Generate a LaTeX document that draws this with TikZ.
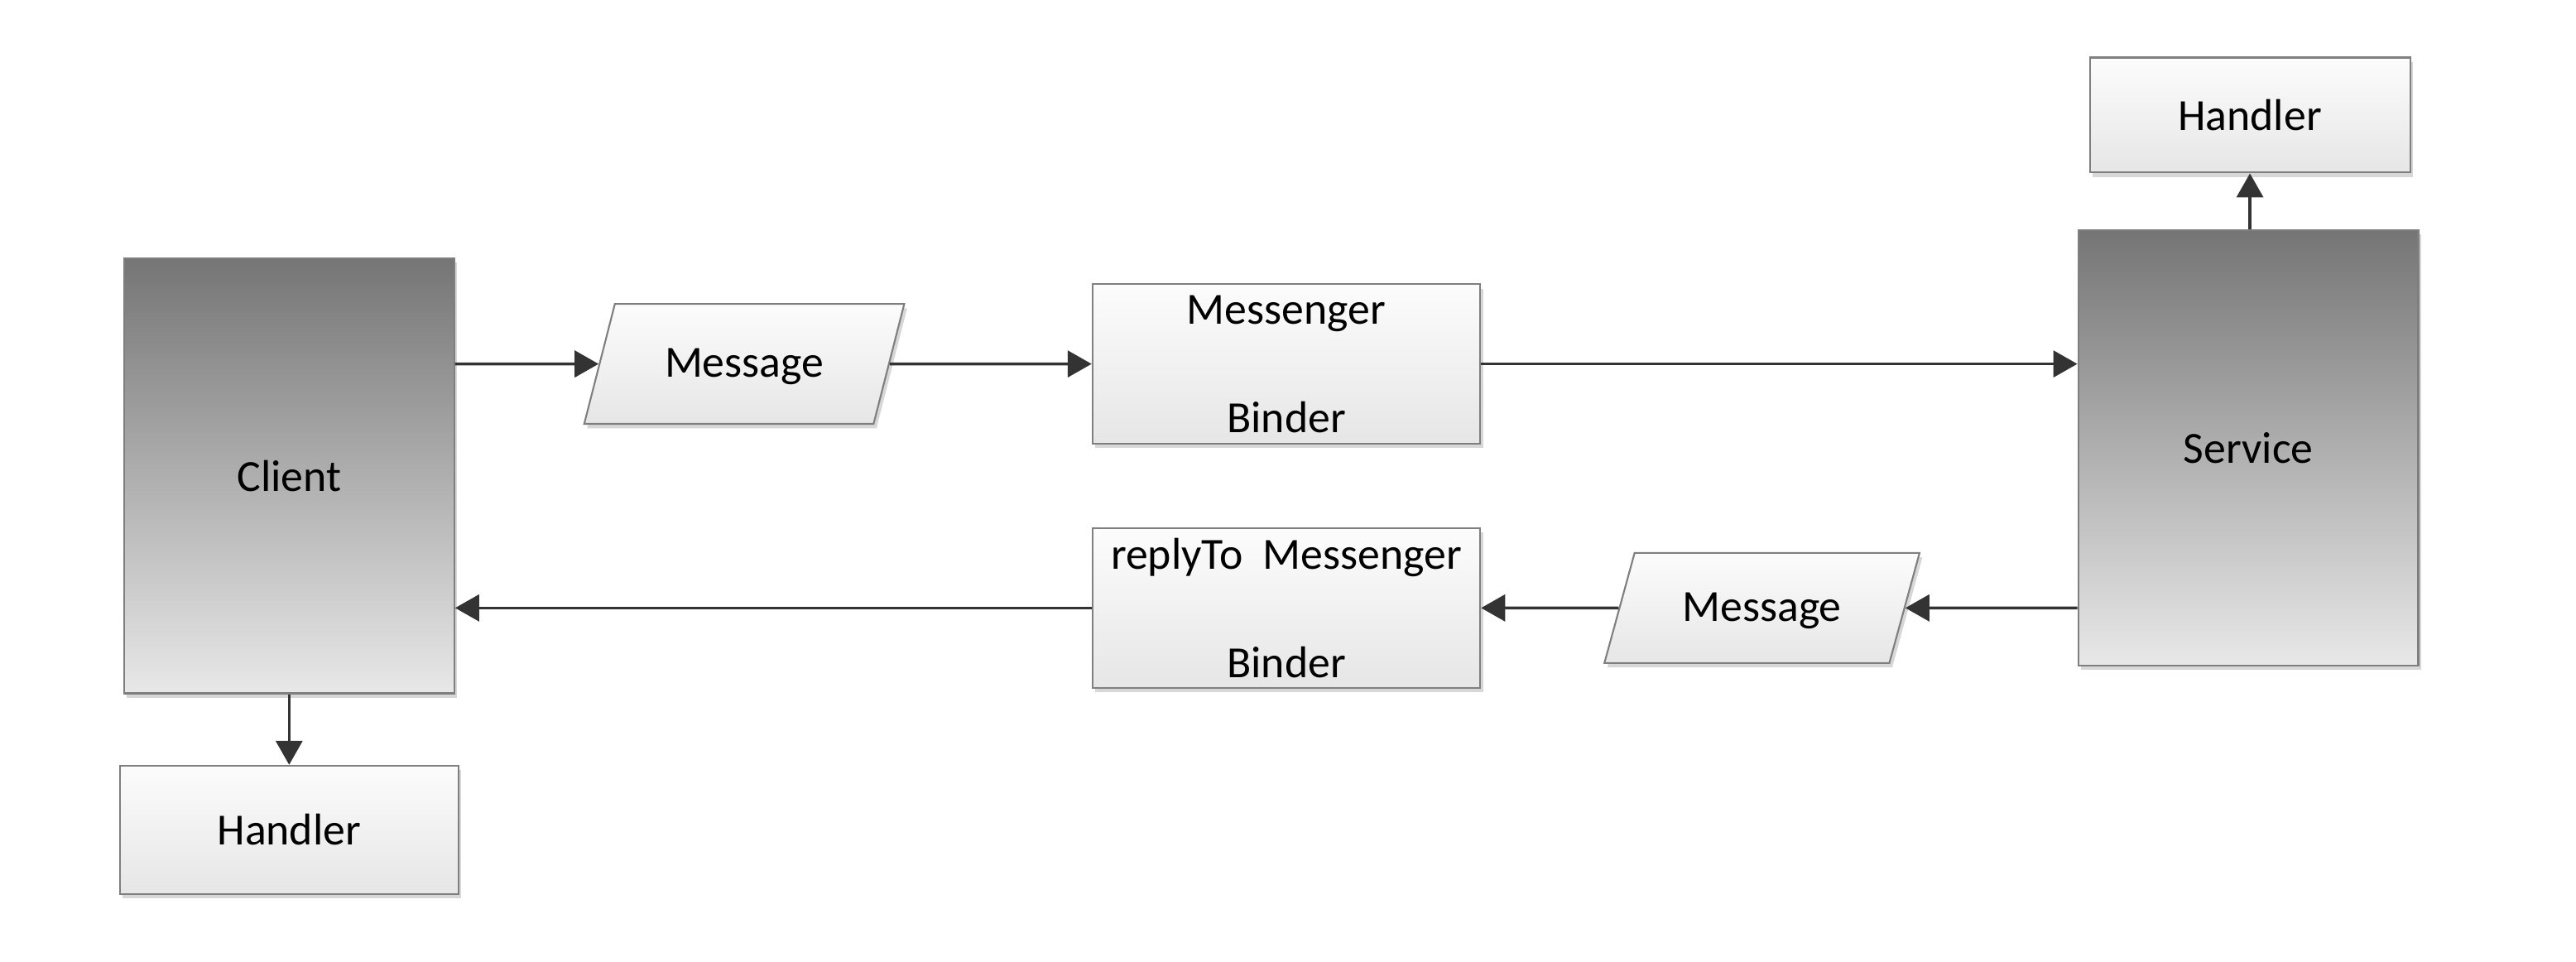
\documentclass[tikz,border=0pt]{standalone}
\usepackage{fontspec}
\setmainfont{Carlito}
\usetikzlibrary{arrows.meta,shapes.geometric,shadows}
\definecolor{darktop}{HTML}{757575}
\definecolor{darkbot}{HTML}{E8E8E8}
\definecolor{lighttop}{HTML}{FCFCFC}
\definecolor{lightbot}{HTML}{E6E6E6}
\definecolor{boxborder}{HTML}{7F7F7F}
\definecolor{arrowc}{HTML}{333333}
\newcommand{\pxu}{0.019847cm}
\begin{document}
\begin{tikzpicture}[x=0.019847cm,y=-0.019847cm,
  font=\fontsize{15.3}{18.6}\selectfont,
  shd/.style={drop shadow={shadow xshift=1pt,shadow yshift=-1.5pt,opacity=0.35,fill=black!45}},
  box/.style={rectangle,draw=boxborder,line width=0.6pt,top color=lighttop,bottom color=lightbot,shd,align=center,inner sep=0pt},
  big/.style={box,top color=darktop,bottom color=darkbot},
  para/.style={trapezium,trapezium left angle=63.5,trapezium right angle=116.5,trapezium stretches=true,
    draw=boxborder,line width=0.6pt,top color=lighttop,bottom color=lightbot,shd,inner sep=0pt,
    text height=1.1em,text depth=0.2em},
  conn/.style={draw=arrowc,line width=1pt,-{Triangle[length=0.29cm,width=0.32cm]}}]
\useasboundingbox (0,0) rectangle (1568,585);

\node[big,minimum width=201*\pxu,minimum height=265*\pxu] (client) at (176,289.5) {Client};
\node[box,minimum width=206*\pxu,minimum height=78*\pxu] (ch) at (176,505) {Handler};
\node[para,minimum width=196*\pxu,minimum height=73*\pxu] (m1) at (453,221.5) {Message};
\node[box,minimum width=236*\pxu,minimum height=97*\pxu] (mb) at (783,221.5) {Messenger\\ \\Binder};
\node[big,minimum width=207*\pxu,minimum height=265*\pxu] (srv) at (1368.5,272.5) {Service};
\node[box,minimum width=195*\pxu,minimum height=70*\pxu] (sh) at (1369.5,70) {Handler};
\node[para,minimum width=193*\pxu,minimum height=67*\pxu] (m2) at (1072.5,370) {Message};
\node[box,minimum width=236*\pxu,minimum height=97*\pxu] (rb) at (783,370) {replyTo\ \ Messenger\\ \\Binder};

\draw[conn] (client.east |- m1.center) -- (m1);
\draw[conn] (m1) -- (mb);
\draw[conn] (mb) -- (srv.west |- mb.center);
\draw[conn] (sh.south |- srv.north) -- (sh);
\draw[conn] (srv.west |- m2.center) -- (m2);
\draw[conn] (m2) -- (rb.east |- m2.center);
\draw[conn] (rb.west |- m2.center) -- (client.east |- m2.center);
\draw[conn] (client) -- (ch);
\end{tikzpicture}
\end{document}
